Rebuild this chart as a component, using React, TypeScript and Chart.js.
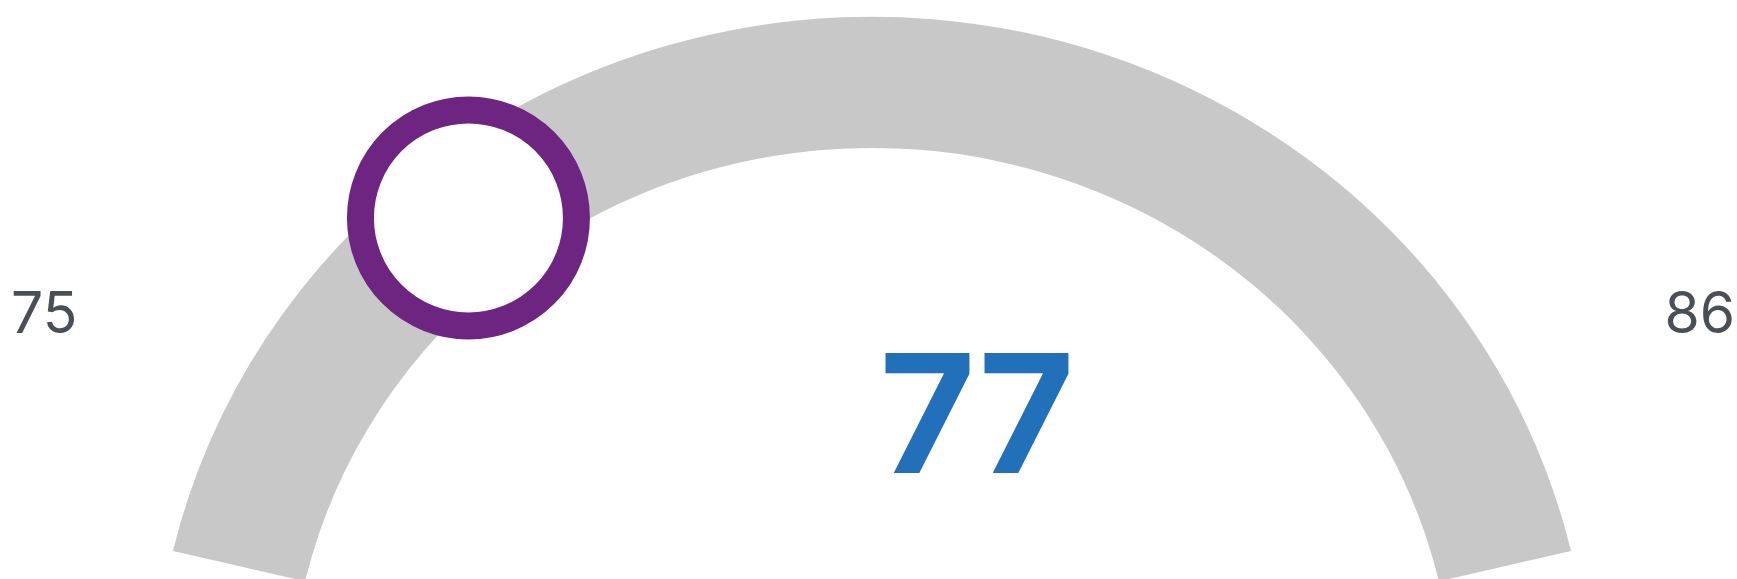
import React, { useEffect, useRef } from "react";
import { Chart, registerables } from "chart.js";

Chart.register(...registerables);

// Gauge bounds (min, max) and current reading; labels are shown rounded
const scaleBounds = [74.6, 86.0];
const currentValue = [77.45];
const segmentColors = ["#C8C8C8", "#C8C8C8"];
const markerColor = ["#6E2581"];
const valueColor = ["#2270BA"];
const labelColor = ["#4A4F57"];
const horizontalStretch = 1.035;

const gaugeOverlay = {
  id: "gaugeOverlay",
  beforeDatasetsDraw(chart: any) {
    const ctx = chart.ctx as CanvasRenderingContext2D;
    const arc = chart.getDatasetMeta(0).data[0];
    ctx.save();
    if (!arc) return;
    const { x, y } = arc.getProps(["x", "y"], true);
    ctx.translate(x, y);
    ctx.scale(horizontalStretch, 1);
    ctx.translate(-x, -y);
  },
  afterDatasetsDraw(chart: any) {
    const ctx = chart.ctx as CanvasRenderingContext2D;
    ctx.restore();
    const meta = chart.getDatasetMeta(0);
    const arc = meta.data[0];
    if (!arc) return;
    const { x, y, endAngle, innerRadius, outerRadius } = arc.getProps(
      ["x", "y", "endAngle", "innerRadius", "outerRadius"],
      true
    );
    const r = (innerRadius + outerRadius) / 2;
    const mx = x + Math.cos(endAngle) * r * horizontalStretch;
    const my = y + Math.sin(endAngle) * r;

    ctx.save();
    // marker
    ctx.beginPath();
    ctx.arc(mx, my, 108, 0, Math.PI * 2);
    ctx.fillStyle = "#FFFFFF";
    ctx.fill();
    ctx.lineWidth = 27;
    ctx.strokeStyle = markerColor[0];
    ctx.stroke();

    // min / max labels
    ctx.fillStyle = labelColor[0];
    ctx.font = '400 57px Inter, "Liberation Sans", sans-serif';
    ctx.textBaseline = "alphabetic";
    ctx.textAlign = "left";
    ctx.fillText(String(Math.round(scaleBounds[0])), 11, 333);
    ctx.textAlign = "right";
    ctx.fillText(String(Math.round(scaleBounds[1])), 1735, 333);

    // current value
    ctx.fillStyle = valueColor[0];
    ctx.font = '700 165px Inter, "Liberation Sans", sans-serif';
    ctx.textAlign = "center";
    ctx.fillText(String(Math.round(currentValue[0])), 977, 473);
    ctx.restore();
  },
};

export default function App() {
  const canvasRef = useRef<HTMLCanvasElement | null>(null);

  useEffect(() => {
    if (!canvasRef.current) return;
    const v = currentValue[0];
    const chart = new Chart(canvasRef.current, {
      type: "doughnut",
      data: {
        labels: ["value", "rest"],
        datasets: [
          {
            data: [v - scaleBounds[0], scaleBounds[1] - v],
            backgroundColor: segmentColors,
            borderWidth: 0,
            hoverOffset: 0,
          },
        ],
      },
      options: {
        animation: false,
        responsive: true,
        maintainAspectRatio: false,
        events: [],
        rotation: -76.7,
        circumference: 153.4,
        cutout: "81.1%",
        radius: 694,
        layout: { padding: { top: 19, left: 7, right: 0, bottom: 0 } },
        plugins: {
          legend: { display: false },
          tooltip: { enabled: false },
        },
      } as any,
      plugins: [gaugeOverlay],
    });
    return () => chart.destroy();
  }, []);

  return (
    <div
      style={{
        position: "absolute",
        left: 0,
        top: 0,
        width: "1737px",
        height: "579px",
        background: "#FFFFFF",
      }}
    >
      <canvas ref={canvasRef} />
    </div>
  );
}
